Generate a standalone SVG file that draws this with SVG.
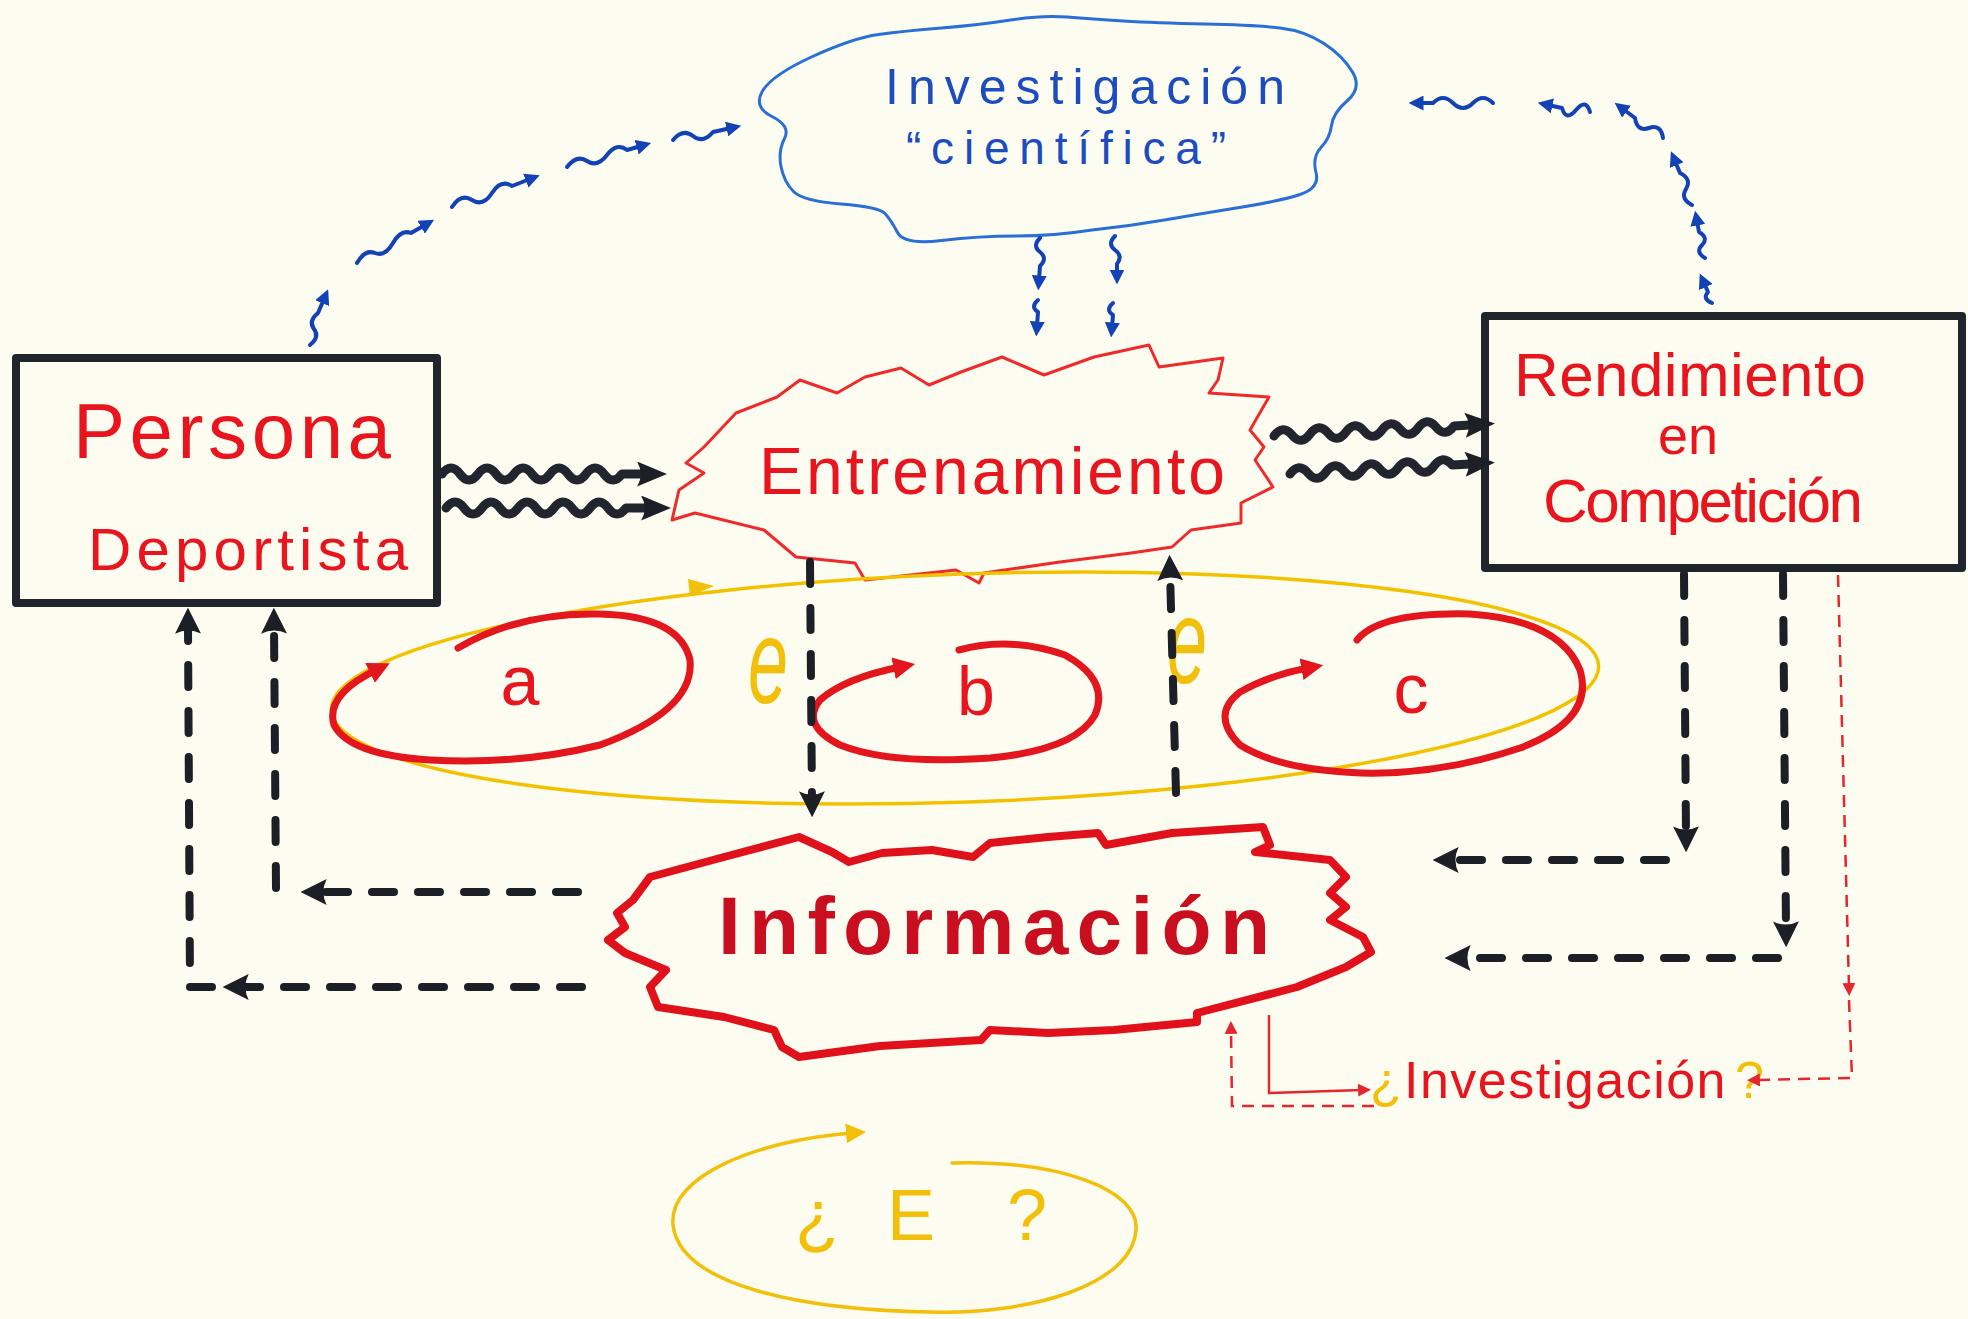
<svg xmlns="http://www.w3.org/2000/svg" width="1968" height="1319" viewBox="0 0 1968 1319">
<defs>
<style>
.bg{fill:#fdfcf1}
.box{fill:none;stroke:#22242c;stroke-width:8;stroke-linejoin:round}
.t{font-family:"Liberation Sans","DejaVu Sans",sans-serif}
.red{fill:#e8141e}
.blue{fill:#1c4cc0}
.yel{fill:#f2bf0a}
.wave{fill:none;stroke:#23252e;stroke-width:9;stroke-linecap:round;stroke-linejoin:round}
.dash{fill:none;stroke:#1d1f27;stroke-width:8;stroke-linecap:round;stroke-dasharray:22 24}
.bwave{fill:none;stroke:#1242b5;stroke-width:4;stroke-linecap:round;stroke-linejoin:round}
.rdash{fill:none;stroke:#e5262c;stroke-width:2.5;stroke-dasharray:12 8}
.rline{fill:none;stroke:#e5262c;stroke-width:2.5}
.spiral{fill:none;stroke:#e3151d;stroke-width:7;stroke-linecap:round}
.ycurve{fill:none;stroke:#f2bf0a;stroke-width:3.5;stroke-linecap:round}
</style>
<marker id="mBig" viewBox="0 0 12 10" refX="2" refY="5" markerWidth="30" markerHeight="25" markerUnits="userSpaceOnUse" orient="auto"><path d="M0,0 L12,5 L0,10 Q3,5 0,0 z" fill="#1d1f27"/></marker>
<marker id="mDash" viewBox="0 0 12 12" refX="4" refY="6" markerWidth="26" markerHeight="26" markerUnits="userSpaceOnUse" orient="auto"><path d="M0,0 L12,6 L0,12 Q3,6 0,0 z" fill="#1d1f27"/></marker>
<marker id="mBlue" viewBox="0 0 10 10" refX="3" refY="5" markerWidth="15" markerHeight="15" markerUnits="userSpaceOnUse" orient="auto"><path d="M0,0 L10,5 L0,10 z" fill="#1242b5"/></marker>
<marker id="mRed" viewBox="0 0 10 10" refX="3" refY="5" markerWidth="13" markerHeight="13" markerUnits="userSpaceOnUse" orient="auto"><path d="M0,0 L10,5 L0,10 z" fill="#e5262c"/></marker>
<marker id="mSpiral" viewBox="0 0 10 10" refX="3" refY="5" markerWidth="22" markerHeight="22" markerUnits="userSpaceOnUse" orient="auto"><path d="M0,0 L10,5 L0,10 z" fill="#e3151d"/></marker>
<marker id="mYel" viewBox="0 0 10 10" refX="3" refY="5" markerWidth="20" markerHeight="20" markerUnits="userSpaceOnUse" orient="auto"><path d="M0,0 L10,5 L0,10 z" fill="#f2bf0a"/></marker>
</defs>
<rect class="bg" x="0" y="0" width="1968" height="1319"/>

<g id="node-persona">
<rect class="box" x="16" y="358" width="421" height="245"/>
<text class="t red" x="232" y="458" font-size="78" text-anchor="middle" textLength="318" lengthAdjust="spacing">Persona</text>
<text class="t red" x="248" y="570" font-size="60" text-anchor="middle" textLength="320" lengthAdjust="spacing">Deportista</text>
</g>

<g id="node-rendimiento">
<rect class="box" x="1485" y="316" width="477" height="252"/>
<text class="t red" x="1690" y="396" font-size="62" text-anchor="middle" textLength="352" lengthAdjust="spacing">Rendimiento</text>
<text class="t red" x="1688" y="454" font-size="54" text-anchor="middle">en</text>
<text class="t red" x="1703" y="522" font-size="62" text-anchor="middle" textLength="320" lengthAdjust="spacing">Competición</text>
</g>

<g id="node-investigacion">
<path d="M812.5,56.5 Q853,38 878.5,34.5 Q904,31 941.5,28 Q979,25 1010.5,20 Q1042,15 1067,17 Q1092,19 1123.5,21 Q1155,23 1205,24 Q1255,25 1280,28 Q1305,31 1324,43.5 Q1343,56 1352.5,72 Q1362,88 1347.5,100.5 Q1333,113 1331.5,125.5 Q1330,138 1321,147.5 Q1312,157 1316,172.5 Q1320,188 1300,194.5 Q1280,201 1242.5,207 Q1205,213 1167.5,219.5 Q1130,226 1092,230 Q1054,236 1016.5,236 Q979,236 941.5,240.5 Q904,245 897.5,232.5 Q891,220 885,213.5 Q879,207 841,204 Q803,201 793.5,191.5 Q784,182 781,166.5 Q778,151 784.5,138.5 Q791,126 772,116.5 Q753,107 762.5,91 Q772,75 812.5,56.5 Z" fill="none" stroke="#2a6fd6" stroke-width="3"/>
<text class="t blue" x="1085" y="104" font-size="50" text-anchor="middle" textLength="400" lengthAdjust="spacing">Investigación</text>
<text class="t blue" x="1066" y="164" font-size="46" text-anchor="middle" textLength="320" lengthAdjust="spacing">“científica”</text>
</g>

<g id="node-entrenamiento">
<path d="M777,397 L800,380 L837,393 L865,377 L901,368 L929,385 L961,372 L1002,357 L1044,375 L1094,357 L1149,345 L1159,367 L1223,358 L1218,380 L1209,393 L1269,397 L1250,430 L1264,447 L1255,460 L1273,487 L1241,503 L1241,523 L1191,530 L1172,547 L1131,553 L1060,562 L984,573 L979,583 L956,570 L865,580 L855,563 L796,557 L764,530 L695,513 L672,520 L679,490 L704,473 L686,463 L704,447 L736,413 Z" fill="none" stroke="#ee2a2a" stroke-width="3" stroke-linejoin="round"/>
<text class="t red" x="992" y="494" font-size="66" text-anchor="middle" textLength="466" lengthAdjust="spacing">Entrenamiento</text>
</g>

<g id="node-informacion">
<path d="M650,877 L724,857 L799,837 L832,852 L849,862 L882,853 L932,850 L973,857 L990,843 L1048,837 L1098,833 L1106,845 L1172,833 L1263,827 L1270,845 L1255,852 L1330,860 L1346,877 L1330,893 L1346,907 L1330,920 L1363,937 L1371,952 L1346,967 L1297,987 L1197,1013 L1197,1022 L1114,1030 L1048,1033 L990,1030 L981,1040 L880,1046 L799,1057 L782,1047 L774,1030 L724,1017 L658,1007 L650,987 L666,970 L625,953 L608,940 L625,927 L617,913 L633,900 Z" fill="none" stroke="#e0111b" stroke-width="8" stroke-linejoin="round"/>
<text class="t" x="994" y="954" font-size="82" font-weight="bold" fill="#c90f1f" text-anchor="middle" textLength="552" lengthAdjust="spacing">Información</text>
</g>

<g id="node-ciclo">
<ellipse cx="965" cy="688" rx="634" ry="114" transform="rotate(-2 965 688)" fill="none" stroke="#f2c200" stroke-width="3.5"/>
<path d="M688,579 L714,586 L690,596 Z" fill="#f2bf0a"/>
<path class="spiral" d="M458,648 Q520,612 600,614 Q680,616 690,660 Q695,710 600,745 Q520,765 430,760 Q350,755 334,725 Q325,695 376,670" marker-end="url(#mSpiral)"/>
<path class="spiral" d="M959,650 Q1010,636 1065,655 Q1110,680 1095,715 Q1075,750 990,758 Q890,765 840,745 Q800,725 820,700 Q845,678 900,667" marker-end="url(#mSpiral)"/>
<path class="spiral" d="M1357,640 Q1380,612 1470,614 Q1560,620 1580,670 Q1595,720 1520,748 Q1440,775 1361,773 Q1280,770 1240,745 Q1210,715 1240,692 Q1270,675 1308,668" marker-end="url(#mSpiral)"/>
<text class="t red" x="520" y="705" font-size="70" text-anchor="middle">a</text>
<text class="t red" x="976" y="715" font-size="68" text-anchor="middle">b</text>
<text class="t red" x="1411" y="713" font-size="70" text-anchor="middle">c</text>
<text class="t yel" transform="translate(768,703) scale(0.9,1.5)" font-size="80" font-style="italic" text-anchor="middle">e</text>
<text class="t yel" transform="translate(1187,683) scale(0.9,1.5)" font-size="80" font-style="italic" text-anchor="middle">e</text>
</g>

<g id="node-pregunta">
<text class="t" y="1098" font-size="52"><tspan class="yel" x="1370">¿</tspan><tspan class="red" x="1404" letter-spacing="1.5">Investigación</tspan><tspan class="yel" x="1735">?</tspan></text>
</g>

<g id="node-e">
<path class="ycurve" d="M952,1163 C1060,1160 1140,1190 1136,1230 C1132,1285 1030,1315 930,1312 C800,1310 680,1285 673,1225 C668,1175 760,1140 852,1133" marker-end="url(#mYel)"/>
<text class="t yel" y="1240" font-size="72" x="795 887 1007">¿E?</text>
</g>

<g id="connectors">
<path class="wave" d="M442,474 q9,-12 18,0 t18,0 t18,0 t18,0 t18,0 t18,0 t18,0 t18,0 t18,0 t18,0 l20,0" marker-end="url(#mBig)"/>
<path class="wave" d="M446,508 q9,-12 18,0 t18,0 t18,0 t18,0 t18,0 t18,0 t18,0 t18,0 t18,0 t18,0 l20,0" marker-end="url(#mBig)"/>
<path class="wave" d="M1274,436 q9,-12 18,-1 t18,-1 t18,-1 t18,-1 t18,-1 t18,-1 t18,-1 t18,-1 t18,-1 t18,-1 l16,-1" marker-end="url(#mBig)"/>
<path class="wave" d="M1290,474 q9,-12 18,-1 t18,-1 t18,-1 t18,-1 t18,-1 t18,-1 t18,-1 t18,-1 t18,-1 l18,-1" marker-end="url(#mBig)"/>

<path class="bwave" d="M310,345 q10,-8 4,-16 t4,-16 l6,-14" marker-end="url(#mBlue)"/>
<path class="bwave" d="M357,263 q8,-14 18,-10 t18,-10 t18,-10 l14,-8" marker-end="url(#mBlue)"/>
<path class="bwave" d="M452,207 q9,-14 20,-7 t20,-7 t20,-7 l18,-7" marker-end="url(#mBlue)"/>
<path class="bwave" d="M567,167 q10,-13 20,-6 t20,-6 t20,-5 l14,-4" marker-end="url(#mBlue)"/>
<path class="bwave" d="M673,140 q10,-12 20,-4 t20,-4 l18,-4" marker-end="url(#mBlue)"/>

<path class="bwave" d="M1493,103 q-10,-10 -20,0 t-20,0 t-20,0 l-14,0" marker-end="url(#mBlue)"/>
<path class="bwave" d="M1590,112 q-4,-14 -14,-2 t-14,-2 l-14,-3" marker-end="url(#mBlue)"/>
<path class="bwave" d="M1663,138 q-2,-14 -14,-10 t-14,-10 l-12,-9" marker-end="url(#mBlue)"/>
<path class="bwave" d="M1692,205 q-12,-6 -6,-16 t-6,-16 l-5,-12" marker-end="url(#mBlue)"/>
<path class="bwave" d="M1705,258 q-10,-6 -3,-13 t-3,-13 l-2,-11" marker-end="url(#mBlue)"/>
<path class="bwave" d="M1712,303 q-10,-4 -4,-11 l-4,-9" marker-end="url(#mBlue)"/>

<path class="bwave" d="M1040,238 q-8,8 0,14 t0,14 l-1,14" marker-end="url(#mBlue)"/>
<path class="bwave" d="M1038,300 q-8,7 0,12 l-1,14" marker-end="url(#mBlue)"/>
<path class="bwave" d="M1115,236 q-8,8 0,14 t2,14 l0,10" marker-end="url(#mBlue)"/>
<path class="bwave" d="M1113,303 q-8,7 0,12 l-1,12" marker-end="url(#mBlue)"/>

<path class="dash" d="M810,562 L812,800" marker-end="url(#mDash)"/>
<path class="dash" d="M1176,793 L1170,572" marker-end="url(#mDash)"/>
<path class="dash" d="M578,892 L318,892" marker-end="url(#mDash)"/>
<path class="dash" d="M276,888 L274,625" marker-end="url(#mDash)"/>
<path class="dash" d="M582,987 L240,987" marker-end="url(#mDash)"/>
<path class="dash" d="M212,987 L190,987 L188,625" marker-end="url(#mDash)"/>
<path class="dash" d="M1684,574 L1686,835" marker-end="url(#mDash)"/>
<path class="dash" d="M1666,860 L1450,860" marker-end="url(#mDash)"/>
<path class="dash" d="M1783,574 L1786,930" marker-end="url(#mDash)"/>
<path class="dash" d="M1778,958 L1462,958" marker-end="url(#mDash)"/>

<path class="rdash" d="M1838,575 L1849,987" marker-end="url(#mRed)"/>
<path class="rdash" d="M1849,1000 L1852,1078 L1756,1080" marker-end="url(#mRed)"/>
<path class="rdash" d="M1374,1106 L1232,1106 L1231,1030" marker-end="url(#mRed)"/>
<path class="rline" d="M1269,1015 L1269,1093 L1362,1090" marker-end="url(#mRed)"/>
</g>
</svg>
